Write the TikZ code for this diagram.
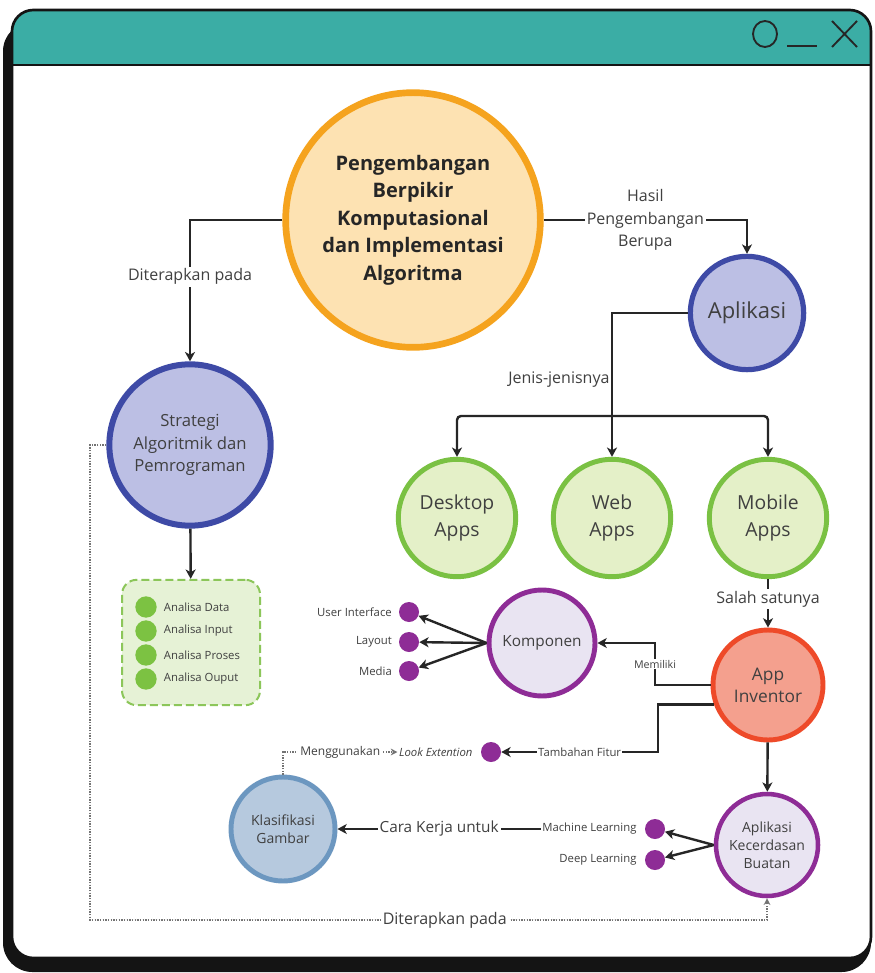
\documentclass[tikz,border=0pt]{standalone}
\usepackage{fontspec}
\setmainfont{Open Sans}
\usepackage{tikz}
\usetikzlibrary{arrows.meta,positioning}

\definecolor{winteal}{RGB}{59,173,165}
\definecolor{orgline}{RGB}{245,163,30}
\definecolor{orgfill}{RGB}{253,226,178}
\definecolor{bluline}{RGB}{62,74,166}
\definecolor{blufill}{RGB}{188,191,228}
\definecolor{grnline}{RGB}{122,193,67}
\definecolor{grnfill}{RGB}{228,240,200}
\definecolor{redline}{RGB}{238,74,41}
\definecolor{redfill}{RGB}{244,160,142}
\definecolor{purline}{RGB}{142,44,150}
\definecolor{purfill}{RGB}{233,228,242}
\definecolor{klsline}{RGB}{108,151,192}
\definecolor{klsfill}{RGB}{182,201,222}
\definecolor{txtgray}{RGB}{64,64,64}
\definecolor{boxfill}{RGB}{230,242,214}
\definecolor{boxline}{RGB}{140,198,90}
\definecolor{dotgreen}{RGB}{124,194,66}

\begin{document}
\begin{tikzpicture}[x=0.75pt,y=0.75pt,yscale=-1,
  bubble/.style={circle,inner sep=0pt,align=center,text=txtgray},
  mainc/.style={bubble,draw=orgline,fill=orgfill,line width=5pt,minimum size=191pt,text=black!85,font=\fontsize{15}{20.6}\selectfont\bfseries},
  bluec/.style={bubble,draw=bluline,fill=blufill,line width=3.9pt},
  grnc/.style={bubble,draw=grnline,fill=grnfill,line width=3.7pt,minimum size=88pt,font=\fontsize{14.5}{20}\selectfont},
  redc/.style={bubble,draw=redline,fill=redfill,line width=3.7pt,minimum size=82.5pt,font=\fontsize{13}{16.5}\selectfont},
  purc/.style={bubble,draw=purline,fill=purfill,line width=3.7pt},
  klsc/.style={bubble,draw=klsline,fill=klsfill,line width=3.7pt,minimum size=78pt,font=\fontsize{10.5}{13.5}\selectfont},
  pdot/.style={circle,fill=purline,minimum size=15pt,inner sep=0pt},
  gdot/.style={circle,fill=dotgreen,minimum size=16pt,inner sep=0pt},
  lbl/.style={fill=white,text=txtgray,inner sep=1.5pt,align=center,font=\fontsize{12}{17}\selectfont},
  smalllbl/.style={text=txtgray,inner sep=1pt,font=\fontsize{8.5}{10}\selectfont},
  arr/.style={draw=black!85,line width=1.8pt,-{Stealth[length=7pt,width=7.5pt,inset=2pt]}},
  dotarr/.style={draw=black!55,line width=1pt,dash pattern=on 1pt off 1pt,-{Stealth[length=5pt,width=5pt]}}
]
\useasboundingbox (0,0) rectangle (874,973);

%Shape: Window shadow
\fill[black!92,rounded corners=22pt] (3,22) rectangle (871,972) ;
%Shape: Window
\fill[white,rounded corners=16pt] (12,10) rectangle (871,958) ;
%Shape: Title bar
\begin{scope}
\clip[rounded corners=16pt] (12,10) rectangle (871,958) ;
\fill[winteal] (12,10) rectangle (871,65) ;
\end{scope}
%Straight Lines
\draw[black!92,line width=2pt] (12,65) -- (871,65) ;
%Shape: Window border
\draw[black!92,line width=2pt,rounded corners=16pt] (12,10) rectangle (871,958) ;
%Shape: Window buttons
\draw[black!85,line width=1.4pt] (765,34) ellipse (12 and 13) ;
\draw[black!85,line width=1.4pt] (787,46) -- (817,46) ;
\draw[black!85,line width=1.4pt] (832,21) -- (857,47) (857,21) -- (832,47) ;

%Shape: Circle
\node[mainc] (pbk) at (413,220) {Pengembangan\\Berpikir\\Komputasional\\dan Implementasi\\Algoritma};
%Shape: Circle
\node[bluec,minimum size=85pt,font=\fontsize{16.5}{20}\selectfont] (apl) at (747,313) {Aplikasi};
%Shape: Circle
\node[bluec,minimum size=121pt,line width=4.5pt,font=\fontsize{12.5}{17}\selectfont] (strat) at (190,445) {Strategi\\Algoritmik dan\\Pemrograman};
%Shape: Circle
\node[grnc] (desk) at (457,518) {Desktop\\Apps};
\node[grnc] (web) at (612,518) {Web\\Apps};
\node[grnc] (mob) at (768,518) {Mobile\\Apps};
%Shape: Circle
\node[redc] (ai) at (768,685) {App\\Inventor};
%Shape: Circle
\node[purc,minimum size=79.5pt,font=\fontsize{11.5}{14}\selectfont] (komp) at (542,643) {Komponen};
\node[purc,minimum size=76.5pt,line width=3.4pt,font=\fontsize{10.5}{13.5}\selectfont] (akb) at (767,845) {Aplikasi\\Kecerdasan\\Buatan};
%Shape: Circle
\node[klsc] (klas) at (283,829) {Klasifikasi\\Gambar};

%Shape: Rounded Rect
\node[draw=boxline,fill=boxfill,line width=1.5pt,dash pattern=on 6pt off 3pt,rounded corners=11pt,minimum width=103.5pt,minimum height=94pt] (anl) at (191,642.5) {};
\foreach \y/\t in {607/Data,631/Input,655/Proses,679/Ouput}{
  \node[gdot] (g\t) at (146,\y) {};
  \node[smalllbl,right=4pt of g\t] {Analisa \t};
}

%Shape: Dots
\node[pdot] (ui) at (409,612) {};
\node[pdot] (lay) at (409,642) {};
\node[pdot] (med) at (409,671) {};
\node[pdot] (look) at (491,752) {};
\node[pdot] (ml) at (655,829) {};
\node[pdot] (dl) at (655,860) {};

% Text Node
\node[smalllbl,left=4pt of ui] {User Interface};
\node[smalllbl,left=4pt of lay] {Layout};
\node[smalllbl,left=4pt of med] {Media};
\node[smalllbl,left=5pt of look] (looktxt) {\itshape Look Extention};
\node[smalllbl,left=5pt of ml] (mltxt) {Machine Learning};
\node[smalllbl,left=5pt of dl] {Deep Learning};

%Bend points
\coordinate (brch) at (612,416);
\coordinate (memk) at (655,643);
\coordinate (fitk) at (658,704);
\coordinate (botl) at (90,920);

%Connectors
\draw[arr] (pbk.west) -| (strat) node[pos=0.7,lbl] {Diterapkan pada};
\draw[arr] (pbk.east) -| (apl) node[pos=0.25,lbl] {Hasil\\Pengembangan\\Berupa};
\draw[arr] (apl.west) -| (web) node[pos=0.73,lbl,fill=none,anchor=east,inner sep=1pt] {Jenis-jenisnya};
\draw[arr,rounded corners=3pt] (brch) -| (desk);
\draw[arr,rounded corners=3pt] (brch) -| (mob);
\draw[arr] (strat) -- (anl);
\draw[arr] (mob) -- (ai) node[midway,lbl,yshift=3pt] {Salah satunya};
\draw[arr] (ai.west) -- (memk |- ai.west) |- (komp) node[pos=0.25,smalllbl,fill=white,font=\fontsize{8}{10}\selectfont] {Memiliki};
\draw[arr] (komp.west) -- (ui);
\draw[arr] (komp.west) -- (lay);
\draw[arr] (komp.west) -- (med);
\draw[arr] (ai.200) -- (fitk |- ai.200) |- (look) node[pos=0.75,smalllbl,fill=white] {Tambahan Fitur};
\draw[arr] (ai) -- (akb);
\draw[arr] (akb.west) -- (ml);
\draw[arr] (akb.west) -- (dl);
\draw[arr] (mltxt) -- (klas) node[midway,lbl,font=\fontsize{11.5}{14}\selectfont] {Cara Kerja untuk};
\draw[dotarr] (klas) |- (looktxt) node[pos=0.75,lbl,font=\fontsize{9}{11}\selectfont] {Menggunakan};
\draw[dotarr] (strat.west) -| (botl) -| (akb) node[pos=0.262,lbl] {Diterapkan pada};

\end{tikzpicture}
\end{document}
